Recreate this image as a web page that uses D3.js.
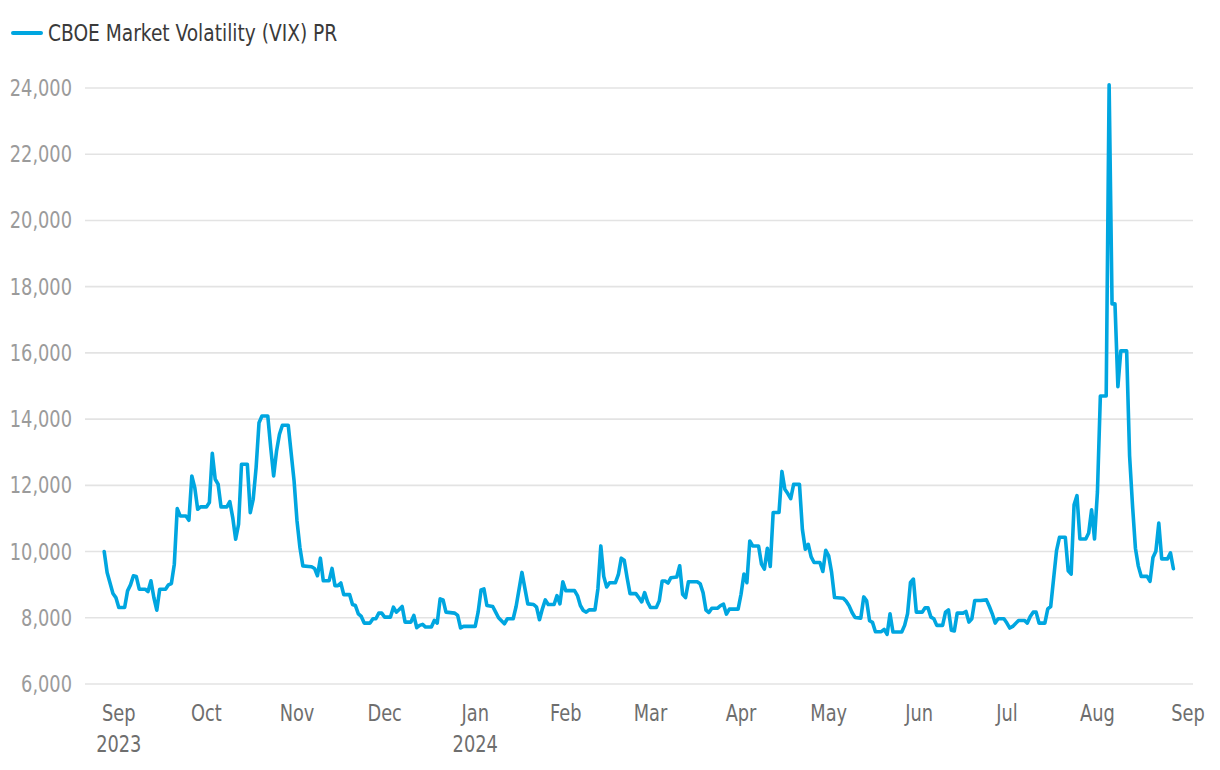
<!DOCTYPE html>
<html>
<head>
<meta charset="utf-8">
<script src="https://cdn.jsdelivr.net/npm/d3@7"></script>
<style>
  body { margin: 0; background: #fff; }
  svg { display: block; }
  text { font-family: "Liberation Sans Narrow", "DejaVu Sans Condensed", "Roboto", sans-serif; }
</style>
</head>
<body>
<svg id="chart" width="1220" height="770"></svg>
<script>
const seriesName = "CBOE Market Volatility (VIX) PR"

const dates = [
  "2023-08-27","2023-08-28","2023-08-30","2023-08-31","2023-09-01","2023-09-03","2023-09-04","2023-09-05","2023-09-06","2023-09-07",
  "2023-09-08","2023-09-10","2023-09-11","2023-09-12","2023-09-13","2023-09-14","2023-09-15","2023-09-17","2023-09-18","2023-09-19",
  "2023-09-20","2023-09-21","2023-09-22","2023-09-24","2023-09-25","2023-09-26","2023-09-27","2023-09-28","2023-09-29","2023-10-01",
  "2023-10-02","2023-10-03","2023-10-04","2023-10-05","2023-10-06","2023-10-08","2023-10-09","2023-10-10","2023-10-11","2023-10-12",
  "2023-10-13","2023-10-15","2023-10-16","2023-10-17","2023-10-18","2023-10-19","2023-10-20","2023-10-22","2023-10-23","2023-10-24",
  "2023-10-25","2023-10-26","2023-10-27","2023-10-29","2023-10-31","2023-11-01","2023-11-02","2023-11-03","2023-11-05","2023-11-06",
  "2023-11-07","2023-11-08","2023-11-09","2023-11-10","2023-11-12","2023-11-13","2023-11-14","2023-11-15","2023-11-16","2023-11-17",
  "2023-11-19","2023-11-20","2023-11-21","2023-11-22","2023-11-23","2023-11-24","2023-11-26","2023-11-27","2023-11-28","2023-11-29",
  "2023-11-30","2023-12-01","2023-12-03","2023-12-04","2023-12-05","2023-12-06","2023-12-07","2023-12-08","2023-12-10","2023-12-11",
  "2023-12-12","2023-12-13","2023-12-14","2023-12-15","2023-12-17","2023-12-18","2023-12-19","2023-12-20","2023-12-21","2023-12-22",
  "2023-12-25","2023-12-26","2023-12-27","2023-12-28","2024-01-01","2024-01-02","2024-01-03","2024-01-04","2024-01-05","2024-01-07",
  "2024-01-08","2024-01-09","2024-01-11","2024-01-12","2024-01-14","2024-01-15","2024-01-17","2024-01-19","2024-01-21","2024-01-22",
  "2024-01-23","2024-01-24","2024-01-25","2024-01-26","2024-01-28","2024-01-29","2024-01-30","2024-01-31","2024-02-01","2024-02-04",
  "2024-02-05","2024-02-06","2024-02-07","2024-02-08","2024-02-09","2024-02-11","2024-02-12","2024-02-13","2024-02-14","2024-02-15",
  "2024-02-16","2024-02-18","2024-02-19","2024-02-20","2024-02-21","2024-02-22","2024-02-23","2024-02-25","2024-02-26","2024-02-27",
  "2024-02-28","2024-02-29","2024-03-01","2024-03-03","2024-03-04","2024-03-05","2024-03-06","2024-03-07","2024-03-08","2024-03-10",
  "2024-03-11","2024-03-12","2024-03-13","2024-03-14","2024-03-17","2024-03-18","2024-03-19","2024-03-20","2024-03-21","2024-03-22",
  "2024-03-24","2024-03-25","2024-03-26","2024-03-27","2024-03-28","2024-03-31","2024-04-01","2024-04-02","2024-04-03","2024-04-04",
  "2024-04-05","2024-04-07","2024-04-08","2024-04-09","2024-04-10","2024-04-11","2024-04-12","2024-04-14","2024-04-15","2024-04-16",
  "2024-04-17","2024-04-18","2024-04-19","2024-04-21","2024-04-22","2024-04-23","2024-04-24","2024-04-25","2024-04-26","2024-04-28",
  "2024-04-29","2024-04-30","2024-05-01","2024-05-02","2024-05-03","2024-05-06","2024-05-07","2024-05-08","2024-05-09","2024-05-10",
  "2024-05-12","2024-05-13","2024-05-14","2024-05-15","2024-05-16","2024-05-17","2024-05-19","2024-05-20","2024-05-21","2024-05-22",
  "2024-05-23","2024-05-26","2024-05-27","2024-05-28","2024-05-29","2024-05-30","2024-05-31","2024-06-02","2024-06-03","2024-06-04",
  "2024-06-05","2024-06-06","2024-06-07","2024-06-09","2024-06-10","2024-06-11","2024-06-12","2024-06-13","2024-06-14","2024-06-16",
  "2024-06-17","2024-06-18","2024-06-19","2024-06-20","2024-06-22","2024-06-24","2024-06-25","2024-06-26","2024-06-27","2024-06-28",
  "2024-06-30","2024-07-01","2024-07-02","2024-07-03","2024-07-05","2024-07-07","2024-07-08","2024-07-09","2024-07-10","2024-07-11",
  "2024-07-12","2024-07-14","2024-07-15","2024-07-16","2024-07-18","2024-07-19","2024-07-21","2024-07-22","2024-07-23","2024-07-24",
  "2024-07-25","2024-07-26","2024-07-28","2024-07-29","2024-07-30","2024-07-31","2024-08-01","2024-08-02","2024-08-04","2024-08-05",
  "2024-08-06","2024-08-07","2024-08-08","2024-08-09","2024-08-11","2024-08-12","2024-08-13","2024-08-14","2024-08-15","2024-08-16",
  "2024-08-18","2024-08-19","2024-08-20","2024-08-21","2024-08-22","2024-08-23","2024-08-25","2024-08-26","2024-08-27"
]

const values = [
  10000,9366,8732,8610,8310,8310,8813,8994,9266,9245,
  8863,8863,8793,9115,8612,8230,8863,8863,8994,9034,
  9618,11298,11076,11076,10946,12284,11932,11278,11348,11348,
  11479,12968,12183,12032,11348,11348,11509,11026,10372,10825,
  12636,12636,11177,11579,12535,13893,14094,14094,13139,12284,
  13038,13541,13813,13813,12133,10926,10121,9567,9550,9540,
  9490,9270,9800,9120,9120,9490,8970,8970,9050,8700,
  8700,8400,8370,8120,8040,7840,7840,7970,7970,8140,
  8140,8020,8020,8320,8170,8250,8340,7870,7870,8070,
  7700,7770,7800,7720,7720,7920,7840,8570,8540,8170,
  8140,8070,7690,7740,7740,8170,8840,8870,8370,8340,
  8170,8000,7820,7970,7970,8340,9370,8420,8400,8320,
  7940,8270,8540,8400,8400,8670,8420,9090,8820,8820,
  8670,8370,8220,8170,8240,8240,8870,10170,9250,8930,
  9060,9060,9300,9800,9740,9210,8730,8730,8610,8480,
  8760,8480,8310,8310,8510,9110,9110,9050,9210,9230,
  9570,8710,8610,9090,9090,9030,8760,8230,8160,8290,
  8290,8370,8410,8110,8260,8260,8710,9320,9060,10320,
  10170,10170,9620,9470,10100,9550,11180,11180,12420,11880,
  11750,11600,12030,12030,10670,10070,10220,9840,9670,9670,
  9400,10040,9870,9370,8610,8590,8500,8360,8160,8010,
  7990,8630,8510,7910,7860,7580,7580,7650,7500,8120,
  7570,7570,7770,8120,9070,9170,8170,8170,8300,8300,
  8020,7970,7770,7770,8170,8240,7620,7600,8140,8140,
  8190,7870,7970,8520,8520,8540,8340,8120,7840,7970,
  7970,7840,7690,7740,7920,7920,7840,8040,8170,8170,
  7840,7840,8270,8340,10030,10430,10430,9420,9320,11410,
  11690,10380,10380,10560,11260,10380,11800,14700,14700,24100,
  17480,17480,14980,16060,16060,12900,11400,10100,9560,9250,
  9250,9100,9820,10010,10860,9780,9780,9960,9480
]

const yTicks = [6000, 8000, 10000, 12000, 14000, 16000, 18000, 20000, 22000, 24000]
const xTicks = ["2023-09-01","2023-10-01","2023-11-01","2023-12-01","2024-01-01","2024-02-01",
  "2024-03-01","2024-04-01","2024-05-01","2024-06-01","2024-07-01","2024-08-01","2024-09-01"]

const parse = d3.utcParse("%Y-%m-%d")
const data = dates.map((d, i) => ({ date: parse(d), value: values[i] }))

// the fonts here are wider than the original condensed face, so squeeze text a bit
const squeeze = 0.86

const svg = d3.select('svg#chart')

const xScale = d3
  .scaleUtc()
  .domain([parse("2023-09-01"), parse("2024-09-01")])
  .range([118.8, 1188])

const yScale = d3
  .scaleLinear()
  .domain([6000, 24000])
  .range([684, 88])

// gridlines
svg.append('g')
  .selectAll('line')
  .data(yTicks)
  .enter()
  .append('line')
  .attr('x1', 85)
  .attr('x2', 1193)
  .attr('y1', d => yScale(d))
  .attr('y2', d => yScale(d))
  .attr('stroke', '#e3e3e3')
  .attr('stroke-width', 1.6)

// y labels
svg.append('g')
  .selectAll('text')
  .data(yTicks)
  .enter()
  .append('text')
  .attr('transform', d => `translate(72,${yScale(d) + 8}) scale(${squeeze},1)`)
  .attr('text-anchor', 'end')
  .attr('font-size', '23px')
  .attr('fill', '#9b9b9b')
  .text(d => d3.format(",")(d))

// x labels
const monthFmt = d3.utcFormat("%b")
svg.append('g')
  .selectAll('text')
  .data(xTicks.map(parse))
  .enter()
  .append('text')
  .attr('transform', d => `translate(${xScale(d)},721) scale(${squeeze},1)`)
  .attr('text-anchor', 'middle')
  .attr('font-size', '23px')
  .attr('fill', '#6e6e6e')
  .text(d => monthFmt(d))

svg.append('g')
  .selectAll('text')
  .data(xTicks.map(parse).filter((d, i) => i === 0 || d.getUTCMonth() === 0))
  .enter()
  .append('text')
  .attr('transform', d => `translate(${xScale(d)},752) scale(${squeeze},1)`)
  .attr('text-anchor', 'middle')
  .attr('font-size', '23px')
  .attr('fill', '#6e6e6e')
  .text(d => d.getUTCFullYear())

// the line
const line = d3.line()
  .x(d => xScale(d.date))
  .y(d => yScale(d.value))

svg.append('path')
  .datum(data)
  .attr('d', line)
  .attr('fill', 'none')
  .attr('stroke', '#00a6e0')
  .attr('stroke-width', 3.6)
  .attr('stroke-linejoin', 'round')
  .attr('stroke-linecap', 'round')

// legend
svg.append('line')
  .attr('x1', 13)
  .attr('x2', 41)
  .attr('y1', 33)
  .attr('y2', 33)
  .attr('stroke', '#00a6e0')
  .attr('stroke-width', 4)
  .attr('stroke-linecap', 'round')

svg.append('text')
  .attr('transform', `translate(48,41) scale(0.9,1)`)
  .attr('font-size', '23px')
  .attr('fill', '#3a3a3a')
  .text(seriesName)
</script>
</body>
</html>
